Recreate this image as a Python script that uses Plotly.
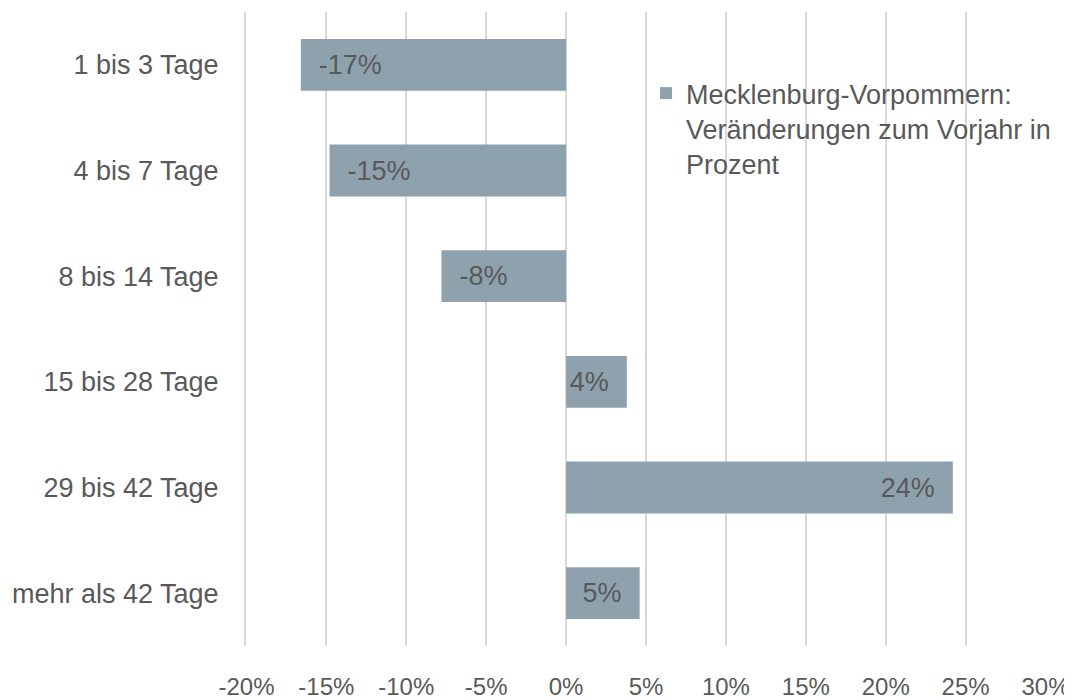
import plotly.graph_objects as go

categories = ["1 bis 3 Tage", "4 bis 7 Tage", "8 bis 14 Tage",
              "15 bis 28 Tage", "29 bis 42 Tage", "mehr als 42 Tage"]
change_pct = [-16.6, -14.8, -7.8, 3.8, 24.2, 4.6]
bar_labels = ["-17%", "-15%", "-8%", "4%", "24%", "5%"]
tick_vals = [-20, -15, -10, -5, 0, 5, 10, 15, 20, 25, 30]
tick_text = ["-20%", "-15%", "-10%", "-5%", "0%", "5%", "10%", "15%", "20%", "25%", "30%"]
series_name = "Mecklenburg-Vorpommern:<br>Veränderungen zum Vorjahr in<br>Prozent"

FONT = "Liberation Sans Narrow, Arial Narrow, Liberation Sans, sans-serif"
GREY_TEXT = "#595959"
GRID = "#d9d9d9"
BAR = "#8ea2ae"

# labels sit a little way in from the bar tip, like the original
pad = "\u00a0\u00a0"
padded = [pad + t if v < 0 else t + pad for t, v in zip(bar_labels, change_pct)]

fig = go.Figure(go.Bar(
    y=categories, x=change_pct, orientation="h",
    name=series_name, marker=dict(color=BAR, line=dict(width=0)),
    text=padded, textposition="inside", insidetextanchor="end",
    textfont=dict(family=FONT, size=27, color=GREY_TEXT),
    cliponaxis=False,
))

# the page body adds an 8px margin, so the figure is 8px smaller each way
fig.update_layout(
    width=1064, height=692,
    margin=dict(l=238, r=26, t=4, b=54),
    paper_bgcolor="white", plot_bgcolor="white",
    font=dict(family=FONT, size=27, color=GREY_TEXT),
    bargap=0.51,
    showlegend=True,
    legend=dict(x=0.5, y=0.91, xanchor="left", yanchor="top",
                bgcolor="rgba(0,0,0,0)", valign="top",
                font=dict(family=FONT, size=27, color=GREY_TEXT)),
)
# range padded a hair so the end gridline at 30% is kept
fig.update_xaxes(range=[-20.03, 30.03], tickvals=tick_vals, ticktext=tick_text,
                 showgrid=True, gridcolor=GRID, gridwidth=2,
                 zeroline=True, zerolinecolor=GRID, zerolinewidth=2,
                 showline=False, ticks="", ticklabelstandoff=24,
                 tickfont=dict(size=24), ticklabeloverflow="allow",
                 automargin=False)
# the y axis line stands in for the -20% gridline
fig.update_yaxes(autorange="reversed", showgrid=False,
                 showline=True, linecolor=GRID, linewidth=2,
                 ticks="", ticklabelstandoff=20, automargin=False)

fig.write_html("out.html")
